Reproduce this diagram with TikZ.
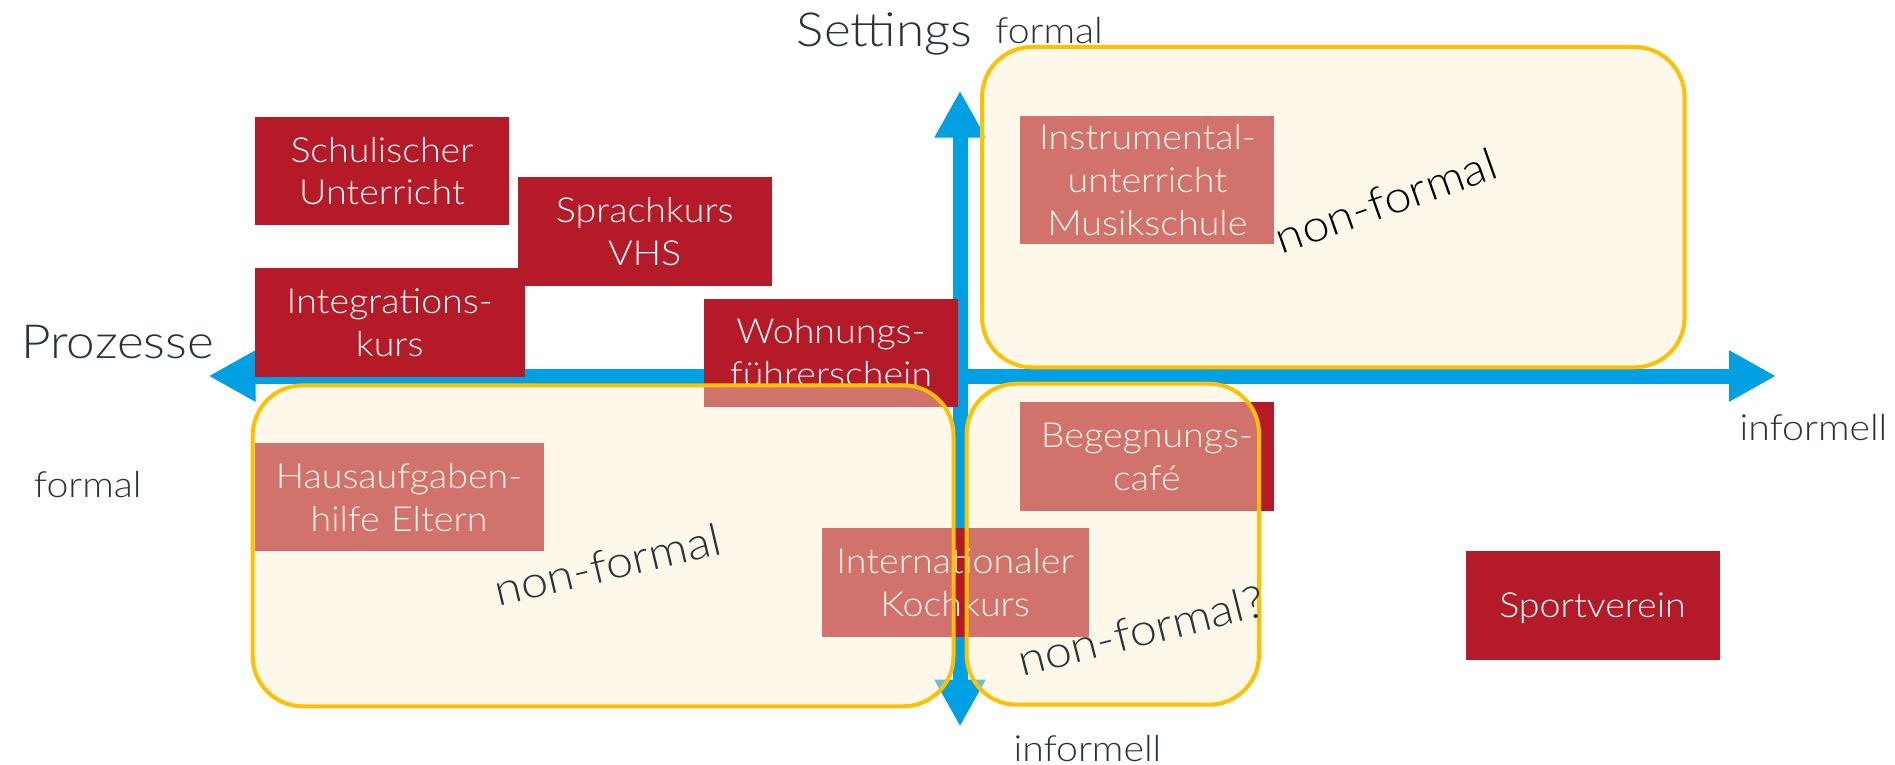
\documentclass[tikz,border=0pt]{standalone}
\usepackage{fontspec}
\setmainfont{Lato}[UprightFont=* Light, FakeStretch=1.09]
\usepackage{xcolor}
\usetikzlibrary{arrows,arrows.meta,calc,positioning}

\definecolor{kursrot}{RGB}{180,26,40}
\definecolor{creme}{RGB}{250,238,204}
\definecolor{gold}{RGB}{255,192,0}
\definecolor{blau}{RGB}{0,160,227}
\definecolor{schiefer}{RGB}{39,52,59}

\tikzset{
    kasten/.style={fill=kursrot, text=white, inner sep=0pt, align=center,
        text width=254pt, minimum height=108.5pt, text height=25pt, text depth=43pt,
        font=\fontsize{34.5}{43}\selectfont},
    feld/.style={draw=gold, line width=4pt, fill=creme, fill opacity=.42, rounded corners=50pt},
    achse/.style={draw=blau, line width=15pt, >={Triangle[length=47pt,width=48pt]}, <->},
    titel/.style={text=schiefer, inner sep=0pt, anchor=base west, font=\fontsize{47}{50}\selectfont},
    pol/.style={text=schiefer, inner sep=0pt, anchor=base west, font=\fontsize{36}{40}\selectfont},
    nf/.style={text=schiefer, inner sep=0pt, anchor=base, font=\fontsize{44.5}{50}\selectfont}
}

\begin{document}
\begin{tikzpicture}[x=1pt,y=-1pt]
    \useasboundingbox (0,0) rectangle (1895,765);

    % axes
    \coordinate (west) at (208.5,376);
    \coordinate (ost) at (1776,376);
    \coordinate (nord) at (960,90.7);
    \coordinate (sued) at (960,726.5);
    \draw[achse] (west) -- (ost);
    \draw[achse] (sued) -- (nord);

    % offers
    \node[kasten] (schule) at (382,171) {Schulischer\\Unterricht};
    \node[kasten] (sprache) at (644.7,231.5) {Sprachkurs\\VHS};
    \node[kasten, text width=270pt] (integration) at (389.7,322.5) {Integrations-\\kurs};
    \node[kasten] (wohnen) at (831,352.8) {Wohnungs-\\führerschein};
    \node[kasten, minimum height=128.3pt, text depth=86pt] (musik) at (1147.4,179.8) {Instrumental-\\unterricht\\Musikschule};
    \node[kasten, text width=289pt] (hausaufgaben) at (399,497) {Hausaufgaben-\\hilfe Eltern};
    \node[kasten] (cafe) at (1146.9,456.5) {Begegnungs-\\café};
    \node[kasten, text width=267pt] (kochen) at (955,582.5) {Internationaler\\Kochkurs};
    \node[kasten, text depth=0pt] (sport) at (1592.5,605.3) {Sportverein};

    % non-formal areas
    \draw[feld] (982,47) rectangle (1684.6,367.3);
    \draw[feld] (252.7,385.3) rectangle (953.5,706.3);
    \draw[feld] (966.6,383.7) rectangle (1259,704.7);

    \node[nf, text=black, rotate=19.5] (nfoben) at (1391,215.5) {non-formal};
    \node[nf, rotate=13.3] (nflinks) at (611,580.3) {non-formal};
    \node[nf, rotate=14.2] (nfmitte) at (1145,646) {non-formal?};

    % axis labels
    \node[titel] (settings) at (796.7,46.7) {Settings};
    \node[titel] (prozesse) at (21,358.3) {Prozesse};
    \node[pol] (formaloben) at (995,43.3) {formal};
    \node[pol] (formallinks) at (33.7,497.3) {formal};
    \node[pol] (informellrechts) at (1739.3,440) {informell};
    \node[pol] (informellunten) at (1013.3,761.7) {informell};
\end{tikzpicture}
\end{document}
